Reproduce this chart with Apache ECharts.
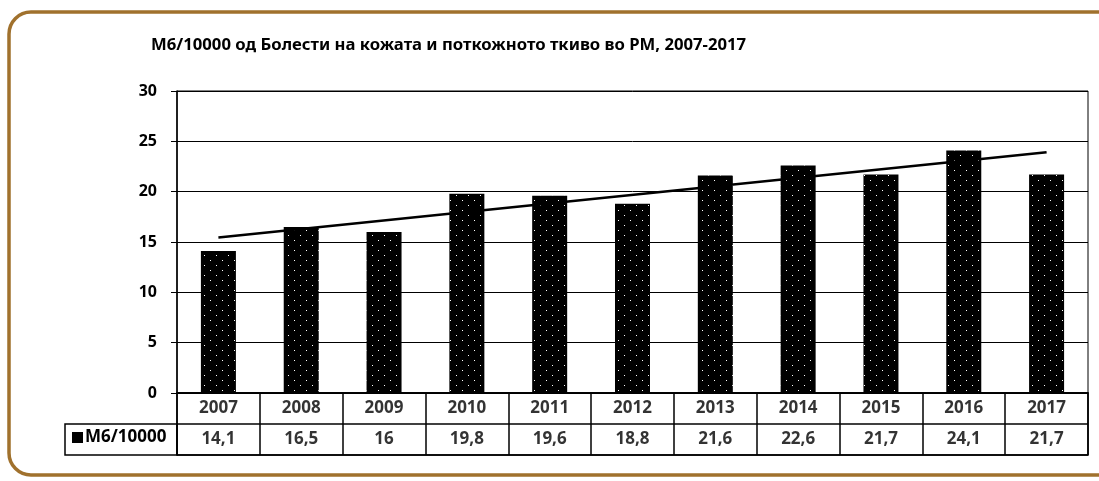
<!DOCTYPE html>
<html>
<head>
<meta charset="utf-8">
<script src="https://cdn.jsdelivr.net/npm/echarts@6/dist/echarts.min.js"></script>
<style>
  html, body { margin: 0; padding: 0; background: #fff; }
  #chart { width: 1099px; height: 481px; }
</style>
</head>
<body>
<div id="chart"></div>
<script>
const years = ['2007', '2008', '2009', '2010', '2011', '2012', '2013', '2014', '2015', '2016', '2017'];
const values = [14.1, 16.5, 16, 19.8, 19.6, 18.8, 21.6, 22.6, 21.7, 24.1, 21.7];
// trend line (start 2007, end 2017)
const trendEnds = [15.45, 23.91];
const seriesName = 'М6/10000';

const font = "'Noto Sans', sans-serif";
const fmt = v => String(v).replace('.', ',');

const trendData = years.map((y, i) => i === 0 ? trendEnds[0] : (i === years.length - 1 ? trendEnds[1] : null));

const dots = {
  symbol: 'rect',
  symbolSize: 1,
  color: '#fff',
  dashArrayX: [[1, 11], [0, 6, 1, 5]],
  dashArrayY: [1, 4],
  rotation: 0
};

const option = {
  animation: false,
  textStyle: { fontFamily: font },
  title: {
    text: 'М6/10000 од Болести на кожата и поткожното ткиво во РМ, 2007-2017',
    left: 146,
    top: 32,
    textStyle: { fontSize: 16.7, fontWeight: 'bold', color: '#000', fontFamily: font }
  },
  legend: {
    data: [{ name: seriesName, icon: 'rect', itemStyle: { color: '#000', decal: 'none' } }],
    left: 72,
    top: 429,
    itemWidth: 11,
    itemHeight: 11,
    itemGap: 2,
    padding: 0,
    textStyle: { fontSize: 17, fontWeight: 'bold', color: '#000', fontFamily: font, padding: [0, 0, 0, -3] }
  },
  grid: [
    { left: 177, top: 91, right: 11, height: 302, show: true, borderColor: '#000', borderWidth: 1 },
    { left: 177, top: 393, right: 11, height: 62, show: true, borderColor: '#000', borderWidth: 1.5 }
  ],
  xAxis: [
    {
      type: 'category', gridIndex: 0, data: years,
      axisLine: { lineStyle: { color: '#000', width: 1.5 } },
      axisTick: { show: false },
      axisLabel: { show: false }
    },
    {
      type: 'category', gridIndex: 1, data: years,
      axisLine: { show: false },
      axisTick: { show: false },
      axisLabel: { show: false },
      splitLine: { show: true, interval: 0, lineStyle: { color: '#000', width: 1.5 } }
    }
  ],
  yAxis: [
    {
      type: 'value', gridIndex: 0, min: 0, max: 30, interval: 5,
      axisLine: { show: true, lineStyle: { color: '#000', width: 1.5 } },
      axisTick: { show: true, length: 6, lineStyle: { color: '#000' } },
      axisLabel: { fontSize: 16, fontWeight: 'bold', color: '#000', margin: 20, fontFamily: font },
      splitLine: { lineStyle: { color: '#000', width: 1 } }
    },
    {
      type: 'value', gridIndex: 1, min: 0, max: 2, interval: 1,
      axisLine: { show: false },
      axisTick: { show: false },
      axisLabel: { show: false },
      splitLine: { lineStyle: { color: '#000', width: 1.5 } }
    }
  ],
  series: [
    {
      name: seriesName,
      type: 'bar',
      xAxisIndex: 0, yAxisIndex: 0,
      data: values,
      barWidth: 35,
      itemStyle: { color: '#000', decal: dots }
    },
    {
      name: 'trend',
      type: 'line',
      xAxisIndex: 0, yAxisIndex: 0,
      data: trendData,
      connectNulls: true,
      symbol: 'none',
      lineStyle: { color: '#000', width: 2.5 },
      z: 5
    },
    {
      name: 'yearRow',
      type: 'scatter',
      xAxisIndex: 1, yAxisIndex: 1,
      symbolSize: 0,
      data: years.map((y, i) => [i, 1.5]),
      label: {
        show: true, position: 'inside',
        formatter: p => years[p.dataIndex],
        fontSize: 17, fontWeight: 'bold', color: '#000', fontFamily: font
      },
      silent: true
    },
    {
      name: 'valueRow',
      type: 'scatter',
      xAxisIndex: 1, yAxisIndex: 1,
      symbolSize: 0,
      data: values.map((v, i) => [i, 0.5]),
      label: {
        show: true, position: 'inside',
        formatter: p => fmt(values[p.dataIndex]),
        fontSize: 17, fontWeight: 'bold', color: '#000', fontFamily: font
      },
      silent: true
    }
  ],
  graphic: [
    {
      type: 'rect',
      shape: { x: 9, y: 12, width: 1130, height: 463, r: 22 },
      style: { fill: 'none', stroke: '#A0712D', lineWidth: 3.5 },
      silent: true
    },
    {
      type: 'rect',
      shape: { x: 65, y: 424, width: 112, height: 31 },
      style: { fill: 'none', stroke: '#000', lineWidth: 1.5 },
      silent: true
    }
  ]
};

const chart = echarts.init(document.getElementById('chart'));
chart.setOption(option);
window.addEventListener('resize', () => chart.resize());
</script>
</body>
</html>
